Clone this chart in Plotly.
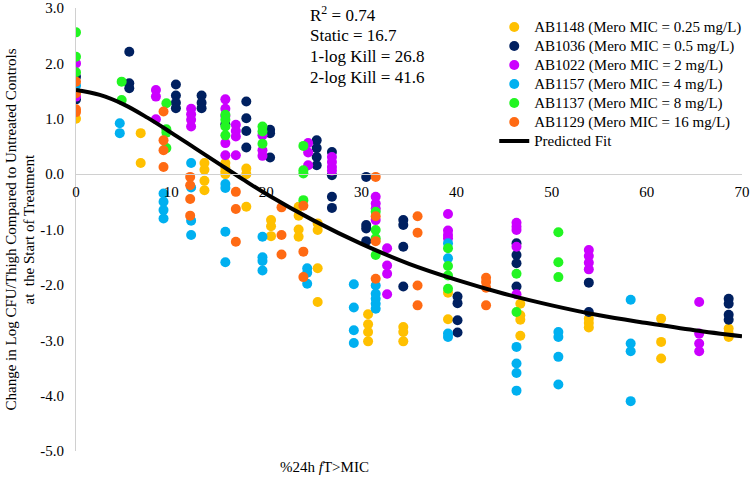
import plotly.graph_objects as go

# values
ab1148_x = [0, 6.8, 6.8, 13.5, 13.5, 13.5, 13.5, 15.7, 15.7, 15.7, 15.7, 17.9, 17.9, 17.9,
            20.5, 20.5, 20.5, 23.4, 23.4, 23.4, 23.4, 25.4, 25.4, 25.4, 25.4,
            30.7, 30.7, 30.7, 30.7, 34.4, 34.4, 34.4, 39.1, 39.1, 46.7, 46.7, 46.7, 46.7,
            53.9, 53.9, 53.9, 61.5, 61.5, 61.5, 68.6, 68.6, 68.6]
ab1148_y = [1.0, 0.74, 0.2, 0.2, 0.08, -0.12, -0.29, 0.2, 0.12, 0.05, 0.0, 0.1, 0.0, -0.59,
            -0.83, -0.94, -1.12, -0.59, -0.75, -1.0, -1.13, -0.89, -1.01, -1.70, -2.31,
            -2.53, -2.71, -2.85, -3.02, -2.76, -2.85, -3.02, -2.14, -2.62, -2.34, -2.55, -2.63, -2.92,
            -2.61, -2.69, -2.77, -2.61, -3.03, -3.33, -2.79, -2.88, -2.94]

ab1036_x = [0, 0, 5.6, 5.6, 5.6, 10.5, 10.5, 10.5, 10.5, 13.2, 13.2, 13.2, 15.7,
            17.9, 17.9, 17.9, 17.9, 20.4, 20.4, 20.4, 25.3, 25.3, 25.3, 25.3,
            26.9, 26.9, 26.9, 26.9, 30.5, 30.5, 30.5, 30.5, 34.4, 34.4, 34.4, 34.4,
            40.1, 40.1, 40.1, 40.1, 46.3, 46.3, 46.3, 46.3, 53.9, 53.9, 68.6, 68.6, 68.6, 68.6]
ab1036_y = [1.76, 1.35, 2.21, 1.64, 1.55, 1.62, 1.42, 1.29, 1.19, 1.42, 1.29, 1.19, 0.9,
            1.31, 1.01, 0.78, 0.48, 0.80, 0.74, 0.30, 0.61, 0.47, 0.31, 0.16,
            0.40, -0.02, -0.41, -0.61, -0.05, -0.92, -0.98, -1.21, -0.83, -0.92, -1.31, -2.03,
            -2.21, -2.33, -2.64, -2.86, -1.25, -1.46, -1.61, -2.03, -1.96, -2.49, -2.25, -2.34, -2.54, -2.63]

ab1022_x = [0, 0, 8.4, 8.4, 8.4, 12.1, 12.1, 12.1, 12.1, 15.7, 15.7, 15.7, 15.7, 15.7,
            16.8, 16.8, 16.8, 16.8, 19.6, 19.6, 19.6, 24.4, 24.4, 24.4, 26.9, 26.9, 26.9, 26.9,
            31.5, 31.5, 31.5, 31.5, 32.7, 32.7, 32.7, 32.7, 39.1, 39.1, 39.1, 39.1,
            46.3, 46.3, 46.3, 46.3, 46.3, 53.9, 53.9, 53.9, 53.9, 65.5, 65.5, 65.5, 65.5]
ab1022_y = [2.0, 1.40, 1.52, 1.40, 0.99, 1.18, 1.08, 0.98, 0.86, 1.35, 1.18, 1.05, 0.56, 0.34,
            0.89, 0.78, 0.68, 0.34, 0.70, 0.43, 0.33, 0.56, 0.39, 0.16, 0.31, 0.22, 0.13, 0.06,
            -0.41, -0.53, -0.62, -0.83, -1.34, -1.65, -1.80, -2.17, -0.72, -1.02, -1.10, -1.16,
            -0.88, -0.95, -1.01, -1.31, -2.17, -1.37, -1.48, -1.60, -1.72, -2.31, -2.88, -3.06, -3.20]

ab1157_x = [0, 4.6, 4.6, 9.2, 9.2, 9.2, 9.2, 12.1, 12.1, 12.1, 12.1, 15.7, 15.7, 15.7, 15.7,
            19.6, 19.6, 19.6, 19.6, 24.3, 24.3, 24.3, 29.2, 29.2, 29.2, 29.2,
            31.5, 31.5, 31.5, 31.5, 31.5, 39.1, 39.1, 39.1, 39.1, 46.3, 46.3, 46.3, 46.3,
            50.7, 50.7, 50.7, 50.7, 58.3, 58.3, 58.3, 58.3]
ab1157_y = [1.6, 0.92, 0.74, -0.35, -0.5, -0.65, -0.8, 0.2, -0.24, -0.84, -1.10, -0.18, -0.25, -1.04, -1.59,
            -1.13, -1.50, -1.57, -1.74, -1.70, -1.78, -1.98, -1.99, -2.41, -2.82, -3.05,
            -2.01, -2.16, -2.25, -2.34, -2.43, -1.25, -1.52, -2.88, -2.94, -3.12, -3.42, -3.59, -3.91,
            -2.85, -2.94, -3.30, -3.80, -2.27, -3.06, -3.20, -4.10]

ab1137_x = [0, 0, 0, 4.8, 4.8, 9.5, 9.5, 9.5, 9.5, 15.7, 15.7, 15.7, 15.7, 19.6, 19.6, 19.6,
            23.9, 23.9, 23.9, 23.9, 31.5, 31.5, 31.5, 31.5, 39.1, 39.1, 39.1, 39.1,
            46.3, 46.3, 50.7, 50.7, 50.7]
ab1137_y = [2.56, 2.12, 1.84, 1.67, 1.34, 1.28, 0.81, 0.75, 0.47, 1.07, 0.98, 0.86, 0.70, 0.86, 0.77, 0.55,
            0.51, 0.07, 0.01, -0.47, -0.68, -1.01, -1.16, -1.46, -1.34, -1.66, -1.83, -2.07,
            -1.80, -2.49, -1.05, -1.59, -1.86]

ab1129_x = [0, 0, 0, 0, 9.2, 9.2, 9.2, 9.2, 12.0, 12.0, 12.0, 12.0, 16.8, 16.8, 16.8,
            21.6, 21.6, 21.6, 23.9, 23.9, 23.9, 31.5, 31.5, 31.5, 31.5,
            35.9, 35.9, 35.9, 35.9, 43.1, 43.1, 43.1, 43.1]
ab1129_y = [1.67, 1.46, 1.17, 1.12, 1.13, 0.61, 0.43, 0.13, -0.05, -0.2, -0.45, -0.75, -0.32, -0.63, -1.22,
            -0.60, -1.10, -1.45, -0.57, -1.40, -1.86, -0.05, -0.76, -1.21, -1.89,
            -0.76, -1.06, -2.01, -2.37, -1.87, -1.95, -2.05, -2.37]

fit_x = [0, 2.5, 5, 7.5, 10, 12.5, 15, 17.5, 20, 25, 30, 35, 40, 45, 50, 55, 60, 65, 70]
fit_y = [1.52, 1.43, 1.26, 1.02, 0.75, 0.47, 0.19, -0.09, -0.36, -0.84, -1.26, -1.62,
         -1.91, -2.16, -2.37, -2.55, -2.69, -2.82, -2.93]

y_ticks = [3, 2, 1, 0, -1, -2, -3, -4, -5]
y_ticktext = ["3.0", "2.0", "1.0", "0.0", "-1.0", "-2.0", "-3.0", "-4.0", "-5.0"]

stats_text = ["R<sup>2</sup> = 0.74", "Static = 16.7", "1-log Kill = 26.8", "2-log Kill = 41.6"]

series = [
    ("AB1148 (Mero MIC = 0.25 mg/L)", ab1148_x, ab1148_y, "#FFC000"),
    ("AB1036 (Mero MIC = 0.5 mg/L)", ab1036_x, ab1036_y, "#002060"),
    ("AB1022 (Mero MIC = 2 mg/L)", ab1022_x, ab1022_y, "#CC00FF"),
    ("AB1157 (Mero MIC = 4 mg/L)", ab1157_x, ab1157_y, "#00B0F0"),
    ("AB1137 (Mero MIC = 8 mg/L)", ab1137_x, ab1137_y, "#22F522"),
    ("AB1129 (Mero MIC = 16 mg/L)", ab1129_x, ab1129_y, "#FF6A13"),
]

FONT = "Liberation Serif"


def legend_label(s):
    # small legend font keeps rows tight, the span sets the visible size
    return '<span style="font-size:15px">' + s + '</span>'


fig = go.Figure()
for name, xs, ys, col in series:
    fig.add_trace(go.Scatter(x=xs, y=ys, mode="markers", name=legend_label(name),
                             marker=dict(color=col, size=10, line=dict(width=0))))

fig.add_trace(go.Scatter(x=fit_x, y=fit_y, mode="lines", name=legend_label("Predicted Fit"),
                         line=dict(color="black", width=4, shape="spline")))

ann = []
for i, t in enumerate(stats_text):
    ann.append(dict(text=t, xref="paper", yref="paper", x=(308 - 76) / 666, y=1,
                    yshift=-(6 + 21 * i), xanchor="left", yanchor="middle",
                    showarrow=False, font=dict(family=FONT, size=17, color="black")))
ann.append(dict(text="%24h <i>f</i>T>MIC", xref="paper", yref="paper",
                x=(324 - 76) / 666, y=0, yshift=-16, xanchor="center", yanchor="middle",
                showarrow=False, font=dict(family=FONT, size=15, color="black")))
ann.append(dict(text="Change in Log CFU/Thigh Compared to Untreated Controls",
                xref="paper", yref="paper", x=0, xshift=-66, y=0.5, textangle=-90,
                xanchor="center", yanchor="middle", showarrow=False,
                font=dict(family=FONT, size=15, color="black")))
ann.append(dict(text="at\u00a0 the Start of Treatment",
                xref="paper", yref="paper", x=0, xshift=-48, y=0.5, textangle=-90,
                xanchor="center", yanchor="middle", showarrow=False,
                font=dict(family=FONT, size=15, color="black")))

fig.update_layout(
    width=750, height=477,
    margin=dict(l=76, r=8, t=8, b=26, autoexpand=False),
    paper_bgcolor="white", plot_bgcolor="white",
    font=dict(family=FONT, size=15, color="black"),
    showlegend=True,
    legend=dict(x=0.628, y=0.99, xanchor="left", yanchor="top",
                bgcolor="rgba(0,0,0,0)", font=dict(family=FONT, size=12),
                itemwidth=30, tracegroupgap=0),
    xaxis=dict(range=[0, 70], tickvals=[0, 10, 20, 30, 40, 50, 60, 70],
               showgrid=False, zeroline=False, showline=True, linecolor="#D0D0D0",
               linewidth=1, anchor="free", position=5 / 8, ticks="",
               ticklabelstandoff=4, automargin=False),
    yaxis=dict(range=[-5, 3], tickvals=y_ticks, ticktext=y_ticktext,
               showgrid=False, zeroline=False, showline=True, linecolor="#D0D0D0",
               linewidth=1, ticks="", ticklabelstandoff=8, automargin=False),
    annotations=ann,
)

# the page body has a default 8px margin; drop it so the figure fills the window
fig.write_html("out.html", config={"displayModeBar": False},
               post_script="document.body.style.margin='0';document.body.style.overflow='hidden';")
